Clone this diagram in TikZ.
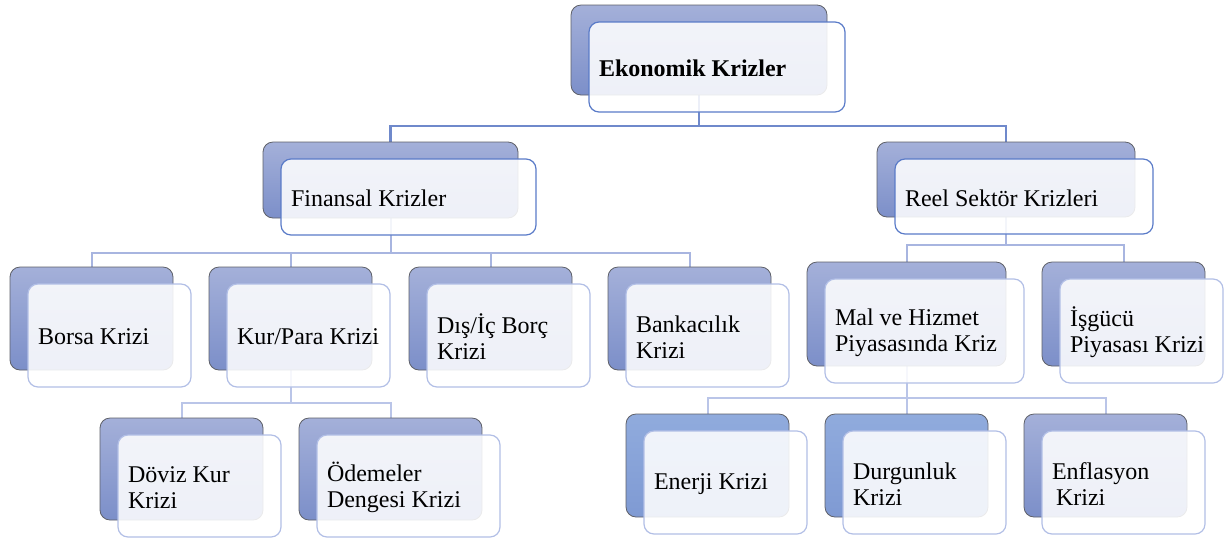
\documentclass[tikz,border=0pt]{standalone}
\usepackage{fontspec}
\setmainfont{Liberation Serif}
\pgfdeclarelayer{background}
\pgfsetlayers{background,main}
\definecolor{backtop}{HTML}{A4B0D9}
\definecolor{backbot}{HTML}{7C8FC9}
\definecolor{backtopB}{HTML}{90ABDD}
\definecolor{backbotB}{HTML}{7F9AD3}
\definecolor{backline}{HTML}{5E6068}
\definecolor{frontdark}{HTML}{5A7BC8}
\definecolor{frontlight}{HTML}{B2BFE6}
\definecolor{conA}{HTML}{6F89CB}
\definecolor{conB}{HTML}{A8B5E0}
\definecolor{conC}{HTML}{BAC5E8}
\tikzset{
  backbox/.style={rectangle,rounded corners=10pt,draw=backline,line width=0.8pt,
    top color=backtop,bottom color=backbot,inner sep=0pt,outer sep=0pt,anchor=north west},
  backboxB/.style={backbox,top color=backtopB,bottom color=backbotB},
  frontbox/.style={rectangle,rounded corners=10pt,draw=frontlight,line width=1.2pt,
    fill=white,fill opacity=0.87,draw opacity=1,inner sep=0pt,outer sep=0pt,anchor=north west},
  frontboxD/.style={frontbox,draw=frontdark},
  txt/.style={inner sep=0pt,outer sep=0pt,align=left,anchor=west,text=black,
    font=\fontsize{24}{26}\selectfont},
  conna/.style={draw=conA,line width=2.6pt},
  connb/.style={draw=conB,line width=2pt},
  connc/.style={draw=conC,line width=2pt},
}
% #1 name, #2 x, #3 y, #4 width, #5 height, #6 back style, #7 front style, #8 text
\newcommand\krpair[8]{%
  \node[#6,minimum width=#4pt,minimum height=#5pt] (#1B) at (#2,#3) {};
  \node[#7,minimum width=#4pt,minimum height=#5pt] (#1F) at ([xshift=18pt,yshift=-17pt]#1B.north west) {};
  \node[txt] (#1T) at ([xshift=10pt,yshift=-1.5pt]#1F.west) {#8};
}
\begin{document}
\begin{tikzpicture}[x=1pt,y=-1pt]
\useasboundingbox (0,0) rectangle (1225,542);
% level 0
\krpair{root}{571}{5}{256}{90}{backbox}{frontboxD}{\textbf{Ekonomik Krizler}}
% level 1
\krpair{fin}{263}{142}{255}{76}{backbox}{frontboxD}{Finansal Krizler}
\krpair{reel}{877}{142}{258}{75}{backbox}{frontboxD}{Reel Sektör Krizleri}
% level 2 financial
\krpair{borsa}{10}{267}{163}{103}{backbox}{frontbox}{Borsa Krizi}
\krpair{kur}{209}{267}{163}{103}{backbox}{frontbox}{Kur/Para Krizi}
\krpair{dis}{409}{267}{163}{103}{backbox}{frontbox}{Dış/İç Borç\\Krizi}
\krpair{bank}{608}{267}{163}{103}{backbox}{frontbox}{Bankacılık\\Krizi}
% level 2 real
\krpair{mal}{807}{262}{199}{104}{backbox}{frontbox}{Mal ve Hizmet\\Piyasasında Kriz}
\krpair{isg}{1042}{262}{163}{104}{backbox}{frontbox}{İşgücü\\Piyasası Krizi}
% level 3 financial
\krpair{doviz}{100}{418}{163}{102}{backbox}{frontbox}{Döviz Kur\\Krizi}
\krpair{odem}{299}{418}{183}{102}{backbox}{frontbox}{Ödemeler\\Dengesi Krizi}
% level 3 real
\krpair{ener}{626}{414}{163}{103}{backboxB}{frontbox}{Enerji Krizi}
\krpair{durg}{825}{414}{163}{103}{backboxB}{frontbox}{Durgunluk\\Krizi}
\krpair{enfl}{1024}{414}{163}{103}{backbox}{frontbox}{Enflasyon\\\hspace{4pt}Krizi}
% connectors
\begin{pgfonlayer}{background}
\coordinate (j0) at (699,126);
\draw[conna] (rootB.south) -- (j0);
\draw[conna] (j0) -| (finB.north);
\draw[conna] (j0) -| (reelB.north);
\coordinate (j1) at (390.5,253);
\draw[connb] (finB.south) -- (j1);
\draw[connb] (j1) -| (borsaB.north);
\draw[connb] (j1) -| (kurB.north);
\draw[connb] (j1) -| (disB.north);
\draw[connb] (j1) -| (bankB.north);
\coordinate (j2) at (290.5,403);
\draw[connc] (kurB.south) -- (j2);
\draw[connc] (j2) -| (dovizB.north);
\draw[connc] (j2) -| (odemB.north);
\coordinate (j3) at (1006,245);
\draw[connb] (reelB.south) -- (j3);
\draw[connb] (j3) -| (malB.north);
\draw[connb] (j3) -| (isgB.north);
\coordinate (j4) at (906.5,398);
\draw[connc] (malB.south) -- (j4);
\draw[connc] (j4) -| (enerB.north);
\draw[connc] (j4) -| (durgB.north);
\draw[connc] (j4) -| (enflB.north);
\end{pgfonlayer}
\end{tikzpicture}
\end{document}
